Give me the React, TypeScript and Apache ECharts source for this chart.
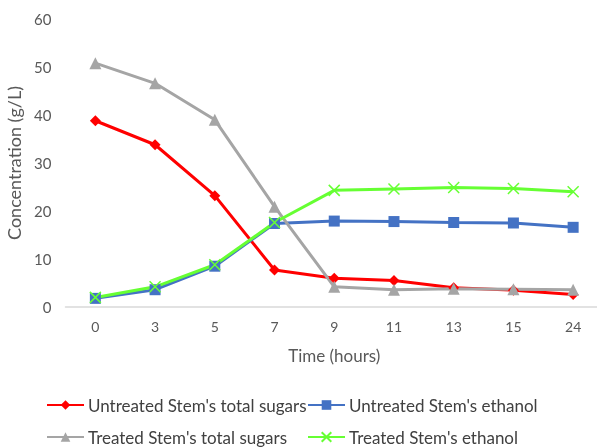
import React, { useEffect, useRef } from "react";
import * as echarts from "echarts";

const hours = ["0", "3", "5", "7", "9", "11", "13", "15", "24"];
const untreatedSugars = [38.8, 33.8, 23.2, 7.7, 6.0, 5.5, 4.0, 3.5, 2.6];
const untreatedEthanol = [1.8, 3.6, 8.5, 17.4, 17.9, 17.8, 17.6, 17.5, 16.6];
const treatedSugars = [50.8, 46.6, 39.0, 20.9, 4.2, 3.6, 3.8, 3.7, 3.6];
const treatedEthanol = [2.0, 4.2, 8.8, 17.6, 24.3, 24.6, 24.9, 24.7, 24.0];

const names = [
  "Untreated Stem's total sugars",
  "Untreated Stem's ethanol",
  "Treated Stem's total sugars",
  "Treated Stem's ethanol",
];

const FONT = "Lato";

export default function App() {
  const ref = useRef<HTMLDivElement>(null);
  useEffect(() => {
    const chart = echarts.init(ref.current!, null, { renderer: "svg" });
    const mk = (name: string, data: number[], color: string, symbol: string, size: number, extra: any = {}) => ({
      name,
      type: "line",
      data,
      symbol,
      symbolSize: size,
      lineStyle: { color, width: 3 },
      itemStyle: { color, ...extra },
      color,
    });
    const legendItem = (name: string, left: number, top: number) => ({
      data: [name],
      left,
      top,
      itemWidth: 37,
      itemHeight: 12,
      itemGap: 0,
      padding: 0,
      textStyle: {
        fontFamily: FONT,
        fontSize: 17,
        lineHeight: 18,
        color: "#404040",
        padding: [0, 0, 0, -1],
      },
    });
    chart.setOption({
      animation: false,
      grid: { left: 65.5, right: -6, top: 19, bottom: 141, outerBoundsMode: "none" },
      legend: [
        legendItem(names[0], 46, 396),
        legendItem(names[1], 307, 396),
        legendItem(names[2], 46, 428),
        legendItem(names[3], 307, 428),
      ],
      xAxis: {
        type: "category",
        data: hours,
        boundaryGap: true,
        axisLine: { lineStyle: { color: "#d9d9d9", width: 1.5 } },
        axisTick: { show: false },
        axisLabel: { color: "#595959", fontFamily: FONT, fontSize: 14, margin: 12 },
        name: "Time (hours)",
        nameLocation: "middle",
        nameGap: 40,
        nameTextStyle: { color: "#595959", fontFamily: FONT, fontSize: 17 },
      },
      yAxis: {
        type: "value",
        min: 0,
        max: 60,
        interval: 10,
        axisLine: { show: false },
        axisTick: { show: false },
        splitLine: { show: false },
        axisLabel: { color: "#595959", fontFamily: FONT, fontSize: 15, margin: 14 },
        name: "Concentration (g/L)",
        nameLocation: "middle",
        nameGap: 28,
        nameTextStyle: { color: "#595959", fontFamily: FONT, fontSize: 18 },
      },
      series: [
        mk(names[0], untreatedSugars, "#ff0000", "diamond", 11),
        mk(names[1], untreatedEthanol, "#4472c4", "rect", 11),
        mk(names[2], treatedSugars, "#a5a5a5", "triangle", 12),
        mk(names[3], treatedEthanol, "#66ff33", "path://M0,0L10,10M10,0L0,10", 11, {
          borderColor: "#66ff33",
          borderWidth: 1.5,
        }),
      ],
    });
    return () => chart.dispose();
  }, []);
  return (
    <div
      ref={ref}
      style={{ position: "fixed", left: 0, top: 0, width: 597, height: 448 }}
    />
  );
}
